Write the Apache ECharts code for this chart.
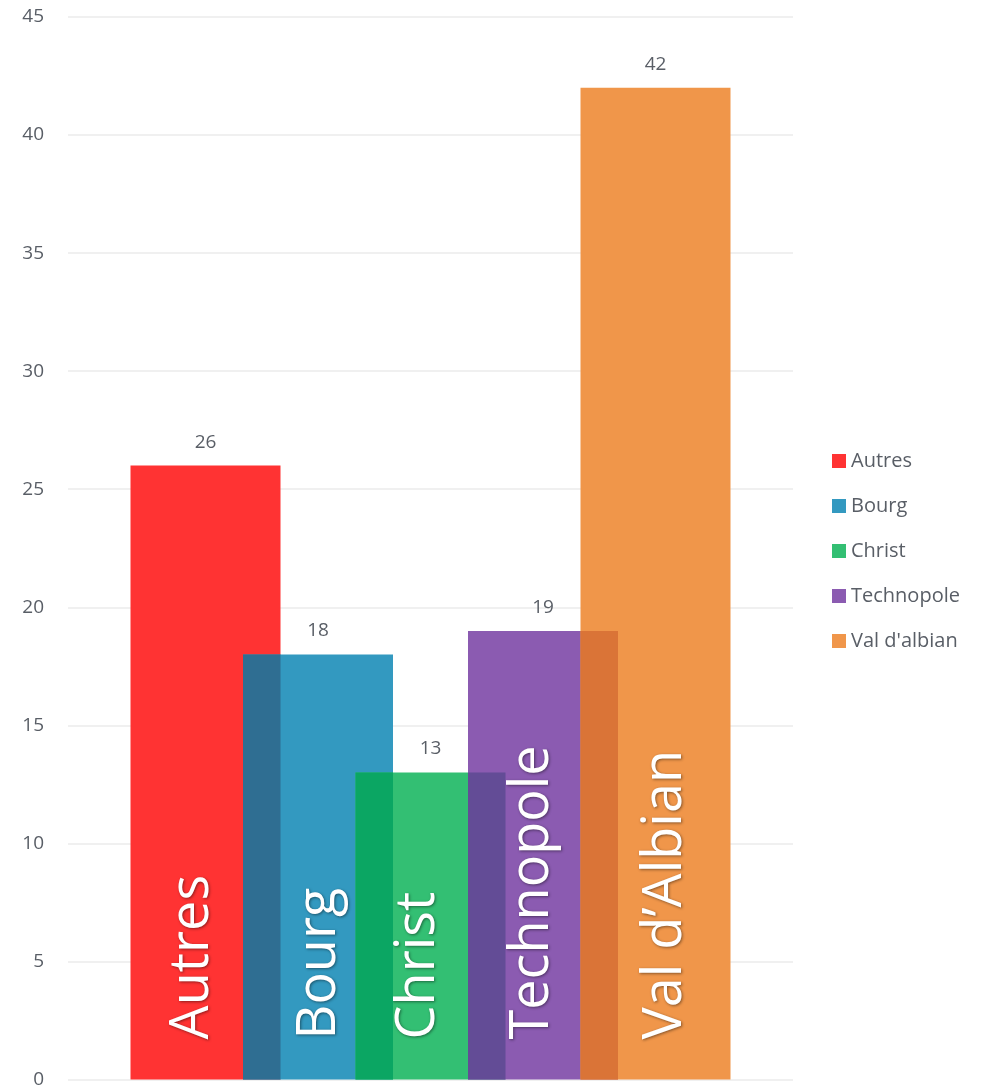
<!DOCTYPE html>
<html>
<head>
<meta charset="utf-8">
<script src="https://cdn.jsdelivr.net/npm/echarts@6/dist/echarts.min.js"></script>
<style>
  html, body { margin: 0; padding: 0; background: #fff; }
  #main { width: 987px; height: 1089px; }
</style>
</head>
<body>
<div id="main"></div>
<script>
// data
var names = ['Autres', 'Bourg', 'Christ', 'Technopole', "Val d'albian"];
var barTexts = ['Autres', 'Bourg', 'Christ', 'Technopole', "Val d\u2019Albian"];
var values = [26, 18, 13, 19, 42];
var yTicks = [0, 5, 10, 15, 20, 25, 30, 35, 40, 45];

// colours (main / darker where a bar covers the previous one)
var colors = ['#ff3333', '#3399c0', '#33bf73', '#8b5bb1', '#f0964a'];
var darkColors = ['#ff3333', '#2f6e92', '#0ba663', '#634c96', '#da7437'];
// small nudges of the big labels, as in the original
var labelShift = [-13, 2, -12, -10, 10];

var textColor = '#595e66';
var chart = echarts.init(document.getElementById('main'));

var series = [];
names.forEach(function (n, i) {
  series.push({
    name: n,
    type: 'bar',
    stack: 's' + i,
    barWidth: 150,
    barGap: '-25%',
    data: [values[i]],
    itemStyle: { color: colors[i] },
    label: {
      show: true,
      position: 'insideBottom',
      rotate: 90,
      align: 'left',
      verticalAlign: 'middle',
      distance: 40,
      offset: [0, labelShift[i]],
      formatter: barTexts[i],
      color: '#fff',
      fontSize: 54,
      fontFamily: 'Open Sans',
      textShadowColor: 'rgba(0,0,0,0.45)',
      textShadowBlur: 3,
      textShadowOffsetX: 1,
      textShadowOffsetY: 1
    },
    z: 2 + i
  });
  // zero height helper on top of the bar, carries the value label
  series.push({
    name: n + '_v',
    type: 'bar',
    stack: 's' + i,
    barWidth: 150,
    barGap: '-25%',
    data: [0],
    itemStyle: { color: 'rgba(0,0,0,0)' },
    label: {
      show: true,
      position: 'top',
      distance: 14,
      formatter: String(values[i]),
      color: textColor,
      fontSize: 19,
      fontFamily: 'Open Sans'
    },
    z: 12
  });
});

// overlap strips: where bar i covers bar i-1 (second hidden x axis)
for (var i = 1; i < names.length; i++) {
  series.push({
    name: 'overlap' + i,
    type: 'bar',
    xAxisIndex: 1,
    barWidth: 37.5,
    barGap: '200%',
    data: [Math.min(values[i - 1], values[i])],
    itemStyle: { color: darkColors[i] },
    z: 10
  });
}

chart.setOption({
  animation: false,
  grid: { left: 68, right: 194, top: 17, bottom: 7 },
  legend: {
    orient: 'vertical',
    left: 832,
    top: 451,
    padding: 0,
    itemWidth: 14,
    itemHeight: 14,
    itemGap: 25,
    icon: 'rect',
    textStyle: { color: textColor, fontSize: 20, fontFamily: 'Open Sans' },
    data: names.map(function (n, i) {
      return { name: n, itemStyle: { color: colors[i] } };
    })
  },
  xAxis: [{
    type: 'category',
    data: [''],
    axisLine: { show: false },
    axisTick: { show: false },
    axisLabel: { show: false }
  }, {
    type: 'category',
    data: [''],
    show: false
  }],
  yAxis: {
    type: 'value',
    min: yTicks[0],
    max: yTicks[yTicks.length - 1],
    interval: 5,
    axisLine: { show: false },
    axisTick: { show: false },
    axisLabel: { color: textColor, fontSize: 19, fontFamily: 'Open Sans', margin: 24 },
    splitLine: { lineStyle: { color: '#f0f0f0', width: 2 } }
  },
  series: series
});
</script>
</body>
</html>
